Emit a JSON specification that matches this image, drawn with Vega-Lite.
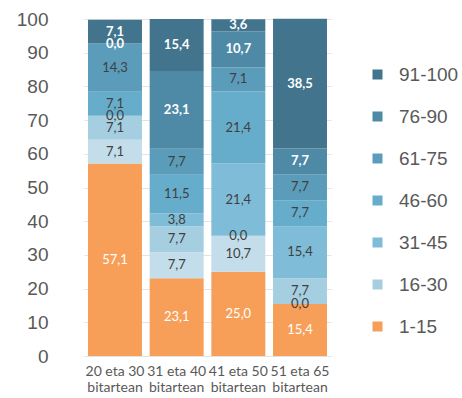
{
  "$schema": "https://vega.github.io/schema/vega-lite/v6.json",
  "width": 247,
  "height": 337,
  "autosize": {"type": "none"},
  "padding": {"left": 84, "top": 19, "right": 131, "bottom": 42},
  "background": "white",
  "config": {
    "view": {"stroke": null},
    "locale": {"number": {"decimal": ",", "thousands": ".", "grouping": [3], "currency": ["", " €"]}}
  },
  "data": {
    "values": [
      {"grupo": "20 eta 30 bitartean", "k": "k1", "v": 57.1},
      {"grupo": "20 eta 30 bitartean", "k": "k2", "v": 7.1},
      {"grupo": "20 eta 30 bitartean", "k": "k3", "v": 7.1},
      {"grupo": "20 eta 30 bitartean", "k": "k4", "v": 0.0},
      {"grupo": "20 eta 30 bitartean", "k": "k5", "v": 7.1},
      {"grupo": "20 eta 30 bitartean", "k": "k6", "v": 14.3},
      {"grupo": "20 eta 30 bitartean", "k": "k7", "v": 0.0},
      {"grupo": "20 eta 30 bitartean", "k": "k8", "v": 7.1},
      {"grupo": "31 eta 40 bitartean", "k": "k1", "v": 23.1},
      {"grupo": "31 eta 40 bitartean", "k": "k2", "v": 7.7},
      {"grupo": "31 eta 40 bitartean", "k": "k3", "v": 7.7},
      {"grupo": "31 eta 40 bitartean", "k": "k4", "v": 3.8},
      {"grupo": "31 eta 40 bitartean", "k": "k5", "v": 11.5},
      {"grupo": "31 eta 40 bitartean", "k": "k6", "v": 7.7},
      {"grupo": "31 eta 40 bitartean", "k": "k7", "v": 23.1},
      {"grupo": "31 eta 40 bitartean", "k": "k8", "v": 15.4},
      {"grupo": "41 eta 50 bitartean", "k": "k1", "v": 25.0},
      {"grupo": "41 eta 50 bitartean", "k": "k2", "v": 10.7},
      {"grupo": "41 eta 50 bitartean", "k": "k3", "v": 0.0},
      {"grupo": "41 eta 50 bitartean", "k": "k4", "v": 21.4},
      {"grupo": "41 eta 50 bitartean", "k": "k5", "v": 21.4},
      {"grupo": "41 eta 50 bitartean", "k": "k6", "v": 7.1},
      {"grupo": "41 eta 50 bitartean", "k": "k7", "v": 10.7},
      {"grupo": "41 eta 50 bitartean", "k": "k8", "v": 3.6},
      {"grupo": "51 eta 65 bitartean", "k": "k1", "v": 15.4},
      {"grupo": "51 eta 65 bitartean", "k": "k2", "v": 0.0},
      {"grupo": "51 eta 65 bitartean", "k": "k3", "v": 7.7},
      {"grupo": "51 eta 65 bitartean", "k": "k4", "v": 15.4},
      {"grupo": "51 eta 65 bitartean", "k": "k5", "v": 7.7},
      {"grupo": "51 eta 65 bitartean", "k": "k6", "v": 7.7},
      {"grupo": "51 eta 65 bitartean", "k": "k7", "v": 7.7},
      {"grupo": "51 eta 65 bitartean", "k": "k8", "v": 38.5}
    ]
  },
  "encoding": {
    "x": {
      "field": "grupo", "type": "nominal", "title": null,
      "scale": {"paddingInner": 0.125, "paddingOuter": 0.065},
      "axis": {
        "labelAngle": 0, "domain": false, "ticks": false, "labelPadding": 8,
        "labelFont": "Lato", "labelFontSize": 14, "labelColor": "#595959", "labelLineHeight": 16,
        "labelExpr": "[replace(datum.label, ' bitartean', ''), 'bitartean']"
      }
    },
    "y": {
      "field": "v", "type": "quantitative", "stack": "zero", "title": null,
      "scale": {"domain": [0, 100], "nice": false},
      "axis": {
        "values": [0, 10, 20, 30, 40, 50, 60, 70, 80, 90, 100],
        "domain": false, "ticks": false, "labelPadding": 36,
        "labelFont": "Liberation Sans", "labelFontSize": 19, "labelColor": "#595959",
        "gridColor": "#e3e3e3"
      }
    },
    "order": {"field": "k", "type": "nominal", "sort": "ascending"}
  },
  "layer": [
    {
      "mark": {"type": "bar"},
      "encoding": {
        "color": {
          "field": "k", "type": "nominal",
          "scale": {
            "domain": ["k8", "k7", "k6", "k5", "k4", "k3", "k2", "k1"],
            "range": ["#43748D", "#4E89A6", "#5A9CBA", "#66ADCC", "#7EBCD7", "#A6CEE1", "#C3DEEA", "#F79F59"]
          },
          "legend": {
            "title": null, "orient": "none", "legendX": 284, "legendY": 46,
            "values": ["k8", "k7", "k6", "k5", "k4", "k3", "k1"],
            "labelExpr": "{'k8':'91-100','k7':'76-90','k6':'61-75','k5':'46-60','k4':'31-45','k3':'16-30','k1':'1-15'}[datum.value]",
            "symbolType": "square", "symbolSize": 100, "symbolStrokeWidth": 0,
            "labelFont": "Liberation Sans", "labelFontSize": 19, "labelColor": "#595959",
            "labelOffset": 12, "rowPadding": 22
          }
        }
      }
    },
    {
      "mark": {"type": "text", "font": "Lato", "fontSize": 13, "fontWeight": "bold", "color": "white", "baseline": "middle"},
      "encoding": {
        "y": {"field": "v", "type": "quantitative", "stack": "zero", "bandPosition": 0.5},
        "text": {"condition": {"test": "datum.k == 'k7' || datum.k == 'k8'", "field": "v", "type": "quantitative", "format": ".1f"}, "value": ""}
      }
    },
    {
      "mark": {"type": "text", "font": "Lato", "fontSize": 13, "baseline": "middle"},
      "encoding": {
        "y": {"field": "v", "type": "quantitative", "stack": "zero", "bandPosition": 0.5},
        "text": {"condition": {"test": "datum.k != 'k7' && datum.k != 'k8'", "field": "v", "type": "quantitative", "format": ".1f"}, "value": ""},
        "color": {"condition": {"test": "datum.k == 'k1'", "value": "white"}, "value": "#404040"}
      }
    }
  ]
}
